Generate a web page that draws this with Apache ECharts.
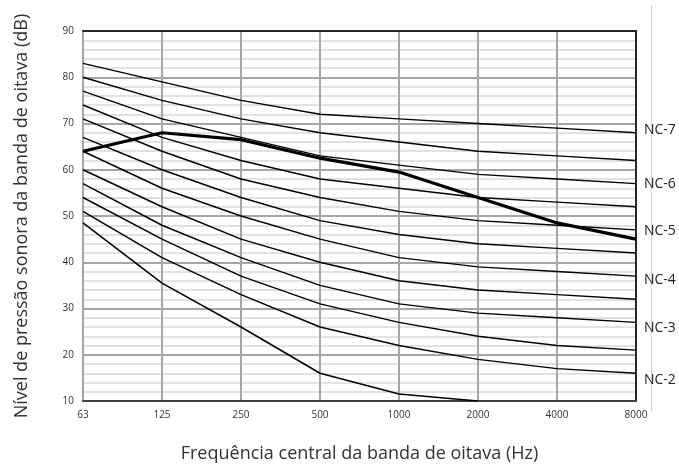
<!DOCTYPE html>
<html>
<head>
<meta charset="utf-8">
<script src="https://cdn.jsdelivr.net/npm/echarts@6/dist/echarts.min.js"></script>
<style>
  html, body { margin: 0; padding: 0; background: #fff; }
  #chart { width: 679px; height: 470px; }
</style>
</head>
<body>
<div id="chart"></div>
<script>
  // bandas de oitava (Hz)
  var bandas = ['63', '125', '250', '500', '1000', '2000', '4000', '8000'];

  // curvas NC, de cima para baixo
  var nc70 = [83, 79, 75, 72, 71, 70, 69, 68];
  var nc65 = [80, 75, 71, 68, 66, 64, 63, 62];
  var nc60 = [77, 71, 67, 63, 61, 59, 58, 57];
  var nc55 = [74, 67, 62, 58, 56, 54, 53, 52];
  var nc50 = [71, 64, 58, 54, 51, 49, 48, 47];
  var nc45 = [67, 60, 54, 49, 46, 44, 43, 42];
  var nc40 = [64, 56, 50, 45, 41, 39, 38, 37];
  var nc35 = [60, 52, 45, 40, 36, 34, 33, 32];
  var nc30 = [57, 48, 41, 35, 31, 29, 28, 27];
  var nc25 = [54, 45, 37, 31, 27, 24, 22, 21];
  var nc20 = [51, 41, 33, 26, 22, 19, 17, 16];
  var nc15 = [48.5, 35.5, 26, 16, 11.5, 10, null, null];

  // espectro medido (linha grossa)
  var medido = [64, 68, 66.5, 62.5, 59.5, 54, 48.5, 45];

  // rótulos à direita: [curva, texto, deslocamento vertical]
  var rotulos = [
    [nc70, 'NC-7', -3],
    [nc60, 'NC-6', 0],
    [nc50, 'NC-5', 1],
    [nc40, 'NC-4', 4],
    [nc30, 'NC-3', 6],
    [nc20, 'NC-2', 7]
  ];

  var curvas = [nc70, nc65, nc60, nc55, nc50, nc45, nc40, nc35, nc30, nc25, nc20, nc15];

  var series = curvas.map(function (c) {
    var s = {
      type: 'line',
      data: c,
      symbol: 'none',
      silent: true,
      lineStyle: { color: '#000', width: 1.5 },
      z: 3
    };
    rotulos.forEach(function (r) {
      if (r[0] === c) {
        s.endLabel = {
          show: true,
          formatter: r[1],
          color: '#222',
          fontSize: 14,
          fontFamily: 'Open Sans',
          distance: 8,
          offset: [0, r[2]]
        };
      }
    });
    return s;
  });

  series.push({
    type: 'line',
    data: medido,
    symbol: 'none',
    silent: true,
    lineStyle: { color: '#000', width: 3.2 },
    z: 4
  });

  var chart = echarts.init(document.getElementById('chart'));
  chart.setOption({
    animation: false,
    textStyle: { fontFamily: 'Open Sans' },
    grid: { left: 83, right: 43, top: 31, bottom: 69 },
    xAxis: [
      {
        type: 'category',
        data: bandas,
        boundaryGap: false,
        name: 'Frequência central da banda de oitava (Hz)',
        nameLocation: 'middle',
        nameGap: 44,
        nameTextStyle: { fontSize: 18, color: '#333' },
        axisLine: { lineStyle: { color: '#404040', width: 2 } },
        axisTick: { show: false },
        axisLabel: { fontSize: 10, color: '#333', margin: 9 },
        splitLine: { show: true, lineStyle: { color: '#a6a6a6', width: 2 } }
      },
      {
        type: 'category',
        data: bandas,
        boundaryGap: false,
        position: 'top',
        axisLine: { lineStyle: { color: '#262626', width: 2 } },
        axisTick: { show: false },
        axisLabel: { show: false },
        splitLine: { show: false }
      }
    ],
    yAxis: [
      {
        type: 'value',
        min: 10,
        max: 90,
        interval: 10,
        name: 'Nível de pressão sonora da banda de oitava (dB)',
        nameLocation: 'middle',
        nameGap: 52,
        nameTextStyle: { fontSize: 18, color: '#333' },
        axisLine: { show: true, lineStyle: { color: '#a6a6a6', width: 2 } },
        axisTick: { show: false },
        axisLabel: { fontSize: 10, color: '#333', margin: 9 },
        splitLine: { lineStyle: { color: '#a6a6a6', width: 2 } },
        minorTick: { show: false, splitNumber: 5 },
        minorSplitLine: { show: true, lineStyle: { color: '#d9d9d9', width: 1.5 } }
      },
      {
        type: 'value',
        min: 10,
        max: 90,
        interval: 10,
        position: 'right',
        axisLine: { show: true, lineStyle: { color: '#262626', width: 2 } },
        axisTick: { show: false },
        axisLabel: { show: false },
        splitLine: { show: false }
      }
    ],
    graphic: [
      {
        type: 'line',
        shape: { x1: 651.5, y1: 5, x2: 651.5, y2: 412 },
        style: { stroke: '#d0d0d0', lineWidth: 1 },
        silent: true
      }
    ],
    series: series
  });
</script>
</body>
</html>
